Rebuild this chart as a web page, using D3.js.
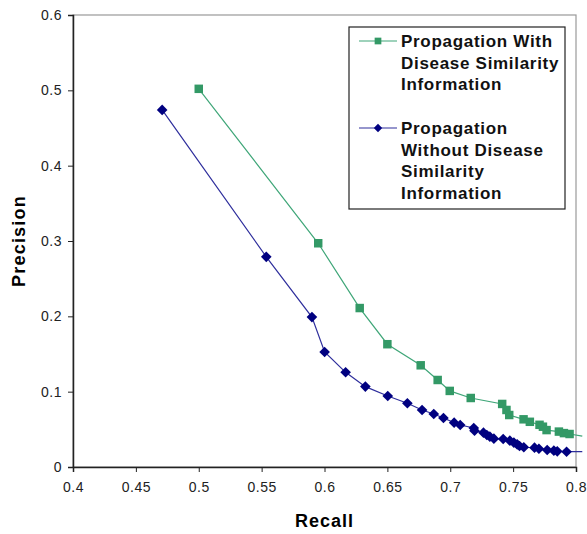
<!DOCTYPE html>
<html>
<head>
<meta charset="utf-8">
<script src="https://cdn.jsdelivr.net/npm/d3@7"></script>
<style>
  body { margin: 0; background: #fff; }
  svg { display: block; font-family: "Liberation Sans", Arial, sans-serif; }
</style>
</head>
<body>
<div id="main"></div>
<script>
// data
const withRecall = [0.500, 0.595, 0.628, 0.650, 0.6765, 0.690, 0.6996, 0.7163, 0.7413, 0.7447, 0.7469, 0.7583, 0.7633, 0.771, 0.7737, 0.7766, 0.7864, 0.7904, 0.7949, 0.805];
const withPrecision = [0.502, 0.297, 0.211, 0.163, 0.135, 0.1155, 0.101, 0.0916, 0.0837, 0.0757, 0.069, 0.0633, 0.060, 0.056, 0.0535, 0.049, 0.047, 0.045, 0.0438, 0.041];
const withoutRecall = [0.4709, 0.5537, 0.590, 0.6001, 0.6168, 0.6325, 0.6503, 0.6659, 0.6776, 0.6869, 0.6946, 0.7031, 0.7079, 0.7187, 0.7193, 0.7264, 0.7291, 0.7315, 0.7347, 0.7421, 0.7474, 0.7506, 0.7532, 0.7551, 0.7585, 0.767, 0.7705, 0.7771, 0.7824, 0.7851, 0.7925, 0.805];
const withoutPrecision = [0.474, 0.279, 0.199, 0.1527, 0.1257, 0.1067, 0.0943, 0.0846, 0.0757, 0.0704, 0.0651, 0.0589, 0.0558, 0.0518, 0.0482, 0.0456, 0.0425, 0.0403, 0.0376, 0.0372, 0.035, 0.0323, 0.0301, 0.0279, 0.0262, 0.0257, 0.0243, 0.0226, 0.0217, 0.0208, 0.0203, 0.0203];
const xTicks = [0.4, 0.45, 0.5, 0.55, 0.6, 0.65, 0.7, 0.75, 0.8];
const yTicks = [0, 0.1, 0.2, 0.3, 0.4, 0.5, 0.6];
const seriesNames = [
  ["Propagation With", "Disease Similarity", "Information"],
  ["Propagation", "Without Disease", "Similarity", "Information"]
];

const width = 587, height = 534;
const margin = {left: 73, top: 15, right: 11, bottom: 67};

const x = d3.scaleLinear().domain([0.4, 0.8]).range([margin.left, width - margin.right]);
const y = d3.scaleLinear().domain([0, 0.6]).range([height - margin.bottom, margin.top]);

const series = [
  {name: seriesNames[0], xs: withRecall, ys: withPrecision, line: "#3fa678", fill: "#339966", shape: d3.symbolSquare, size: 72},
  {name: seriesNames[1], xs: withoutRecall, ys: withoutPrecision, line: "#2e2e9c", fill: "#000080", shape: d3.symbolDiamond2, size: 72}
];

function main () {
  const svg = d3.create("svg")
    .attr("width", width)
    .attr("height", height);

  // cadre gris haut / droite
  svg.append("rect")
    .attr("x", x(0.4)).attr("y", y(0.6))
    .attr("width", x(0.8) - x(0.4)).attr("height", y(0) - y(0.6))
    .attr("fill", "none").attr("stroke", "#999").attr("stroke-width", 1.2);

  const line = d3.line().x(d => x(d[0])).y(d => y(d[1]));

  for (const s of series) {
    const pts = s.xs.map((v, i) => [v, s.ys[i]]);
    svg.append("path")
      .attr("d", line(pts))
      .attr("fill", "none")
      .attr("stroke", s.line)
      .attr("stroke-width", 1.2);
    svg.append("g")
      .selectAll("path")
      .data(pts.filter(d => d[0] <= 0.8))
      .join("path")
        .attr("transform", d => `translate(${x(d[0])},${y(d[1])})`)
        .attr("d", d3.symbol(s.shape, s.size))
        .attr("fill", s.fill);
  }

  // axes
  const xAxis = svg.append("g")
    .attr("transform", `translate(0,${y(0)})`)
    .call(d3.axisBottom(x).tickValues(xTicks).tickSize(5).tickPadding(10).tickFormat(d3.format("")));
  const yAxis = svg.append("g")
    .attr("transform", `translate(${x(0.4)},0)`)
    .call(d3.axisLeft(y).tickValues(yTicks).tickSize(5).tickPadding(6).tickFormat(d3.format("")));
  for (const ax of [xAxis, yAxis]) {
    ax.select(".domain").attr("stroke", "#222").attr("stroke-width", 1.5);
    ax.selectAll(".tick line").attr("stroke", "#222");
    ax.selectAll("text").attr("font-size", 14).attr("fill", "#222")
      .attr("letter-spacing", 0.5)
      .attr("font-family", "'Liberation Sans', Arial, sans-serif");
  }

  svg.append("text")
    .attr("x", (x(0.4) + x(0.8)) / 2).attr("y", 527)
    .attr("text-anchor", "middle")
    .attr("font-size", 18).attr("font-weight", "bold").attr("letter-spacing", 1)
    .text("Recall");
  svg.append("text")
    .attr("transform", `translate(25,${(y(0) + y(0.6)) / 2}) rotate(-90)`)
    .attr("text-anchor", "middle")
    .attr("font-size", 18).attr("font-weight", "bold").attr("letter-spacing", 1.2)
    .text("Precision");

  // legende
  const lg = svg.append("g");
  lg.append("rect")
    .attr("x", 349).attr("y", 27).attr("width", 216).attr("height", 182)
    .attr("fill", "#fff").attr("stroke", "#222").attr("stroke-width", 1.2);
  const lh = 21.5;
  let row = 0;
  series.forEach((s, i) => {
    const cy = 41 + row * lh + (i ? 1 : 0);
    lg.append("line")
      .attr("x1", 359).attr("x2", 397).attr("y1", cy).attr("y2", cy)
      .attr("stroke", s.line).attr("stroke-width", 1.2);
    lg.append("path")
      .attr("transform", `translate(378,${cy})`)
      .attr("d", d3.symbol(s.shape, 45))
      .attr("fill", s.fill);
    s.name.forEach((t, j) => {
      lg.append("text")
        .attr("x", 401).attr("y", cy + j * lh + 6)
        .attr("font-size", 17).attr("font-weight", "bold").attr("fill", "#111")
        .attr("letter-spacing", 0.7)
        .text(t);
    });
    row += s.name.length + 1;
  });

  return svg.node();
}

document.getElementById("main").appendChild(main());
</script>
</body>
</html>
